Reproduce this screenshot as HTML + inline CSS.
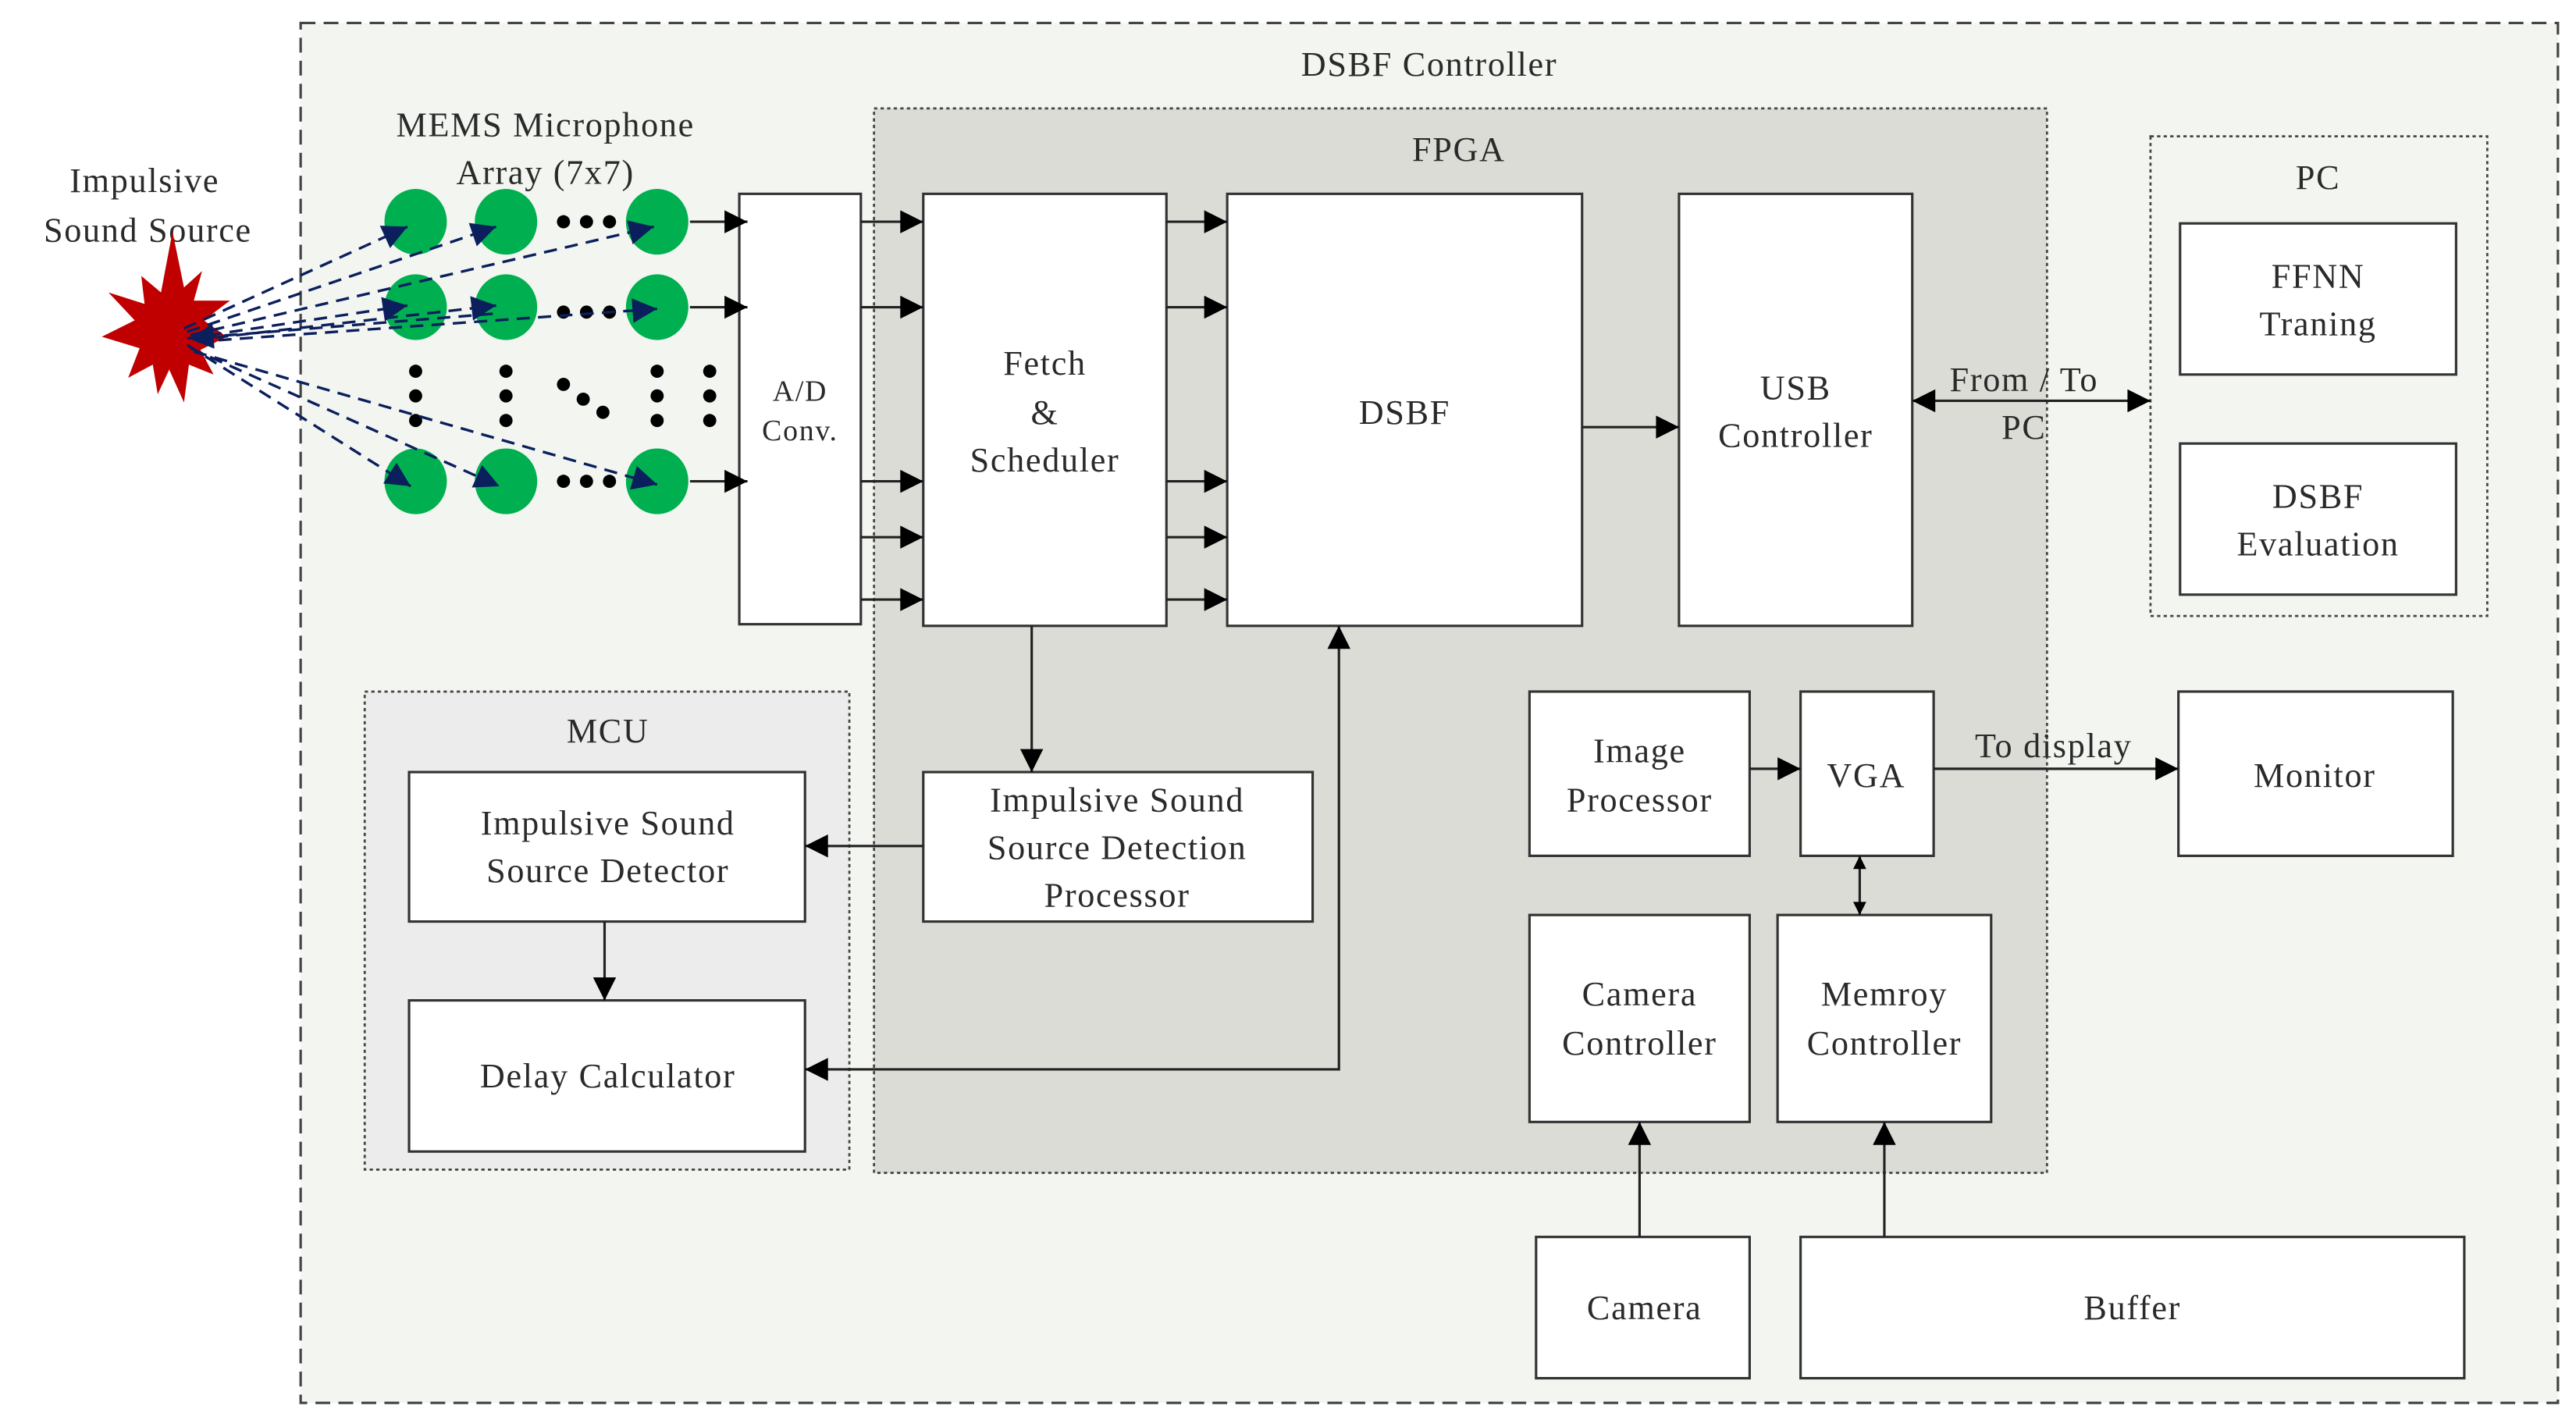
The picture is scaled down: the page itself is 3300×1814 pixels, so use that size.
<!DOCTYPE html>
<html><head><meta charset="utf-8"><style>
html,body{margin:0;padding:0;background:#fff;}
svg{display:block;}
text{font-family:"Liberation Serif",serif;font-size:21px;fill:#2a2a2a;text-anchor:middle;letter-spacing:0.8px;}
.b{fill:#fff;stroke:#333;stroke-width:1.5;}
.l{stroke:#222;stroke-width:1.5;fill:none;}
.d{stroke:#0a1f5c;stroke-width:1.6;stroke-dasharray:8,5;fill:none;}
</style></head><body>
<svg width="3300" height="1814" viewBox="0 0 1568 862" preserveAspectRatio="none" xmlns="http://www.w3.org/2000/svg">
<defs>
<marker id="a" viewBox="0 0 10 10" refX="10" refY="5" markerWidth="22" markerHeight="14" markerUnits="userSpaceOnUse" orient="auto-start-reverse"><path d="M0,0L10,5L0,10z" fill="#000"/></marker>
<marker id="s" viewBox="0 0 10 10" refX="10" refY="5" markerWidth="10" markerHeight="8" markerUnits="userSpaceOnUse" orient="auto-start-reverse"><path d="M0,0L10,5L0,10z" fill="#000"/></marker>
<marker id="n" viewBox="0 0 10 10" refX="10" refY="5" markerWidth="22" markerHeight="15" markerUnits="userSpaceOnUse" orient="auto"><path d="M0,0L10,5L0,10z" fill="#0a1f5c"/></marker>
</defs>
<rect width="1568" height="862" fill="#fff"/>
<rect x="183" y="14" width="1374" height="840" fill="#f3f5f0" stroke="#444" stroke-width="1.5" stroke-dasharray="9,5"/>
<text x="870" y="46">DSBF Controller</text>
<rect x="532" y="66" width="714" height="648" fill="#dcdcd7" stroke="#444" stroke-width="1.3" stroke-dasharray="2,2"/>
<text x="888" y="98">FPGA</text>
<rect x="1309" y="83" width="205" height="292" fill="#f3f5f0" stroke="#444" stroke-width="1.3" stroke-dasharray="2,2"/>
<text x="1411" y="115">PC</text>
<rect x="222" y="421" width="295" height="291" fill="#ececec" stroke="#444" stroke-width="1.3" stroke-dasharray="2,2"/>
<text x="370" y="452">MCU</text>

<rect class="b" x="1327" y="136" width="168" height="92"/><text x="1411" y="175">FFNN</text><text x="1411" y="204">Traning</text>
<rect class="b" x="1327" y="270" width="168" height="92"/><text x="1411" y="309">DSBF</text><text x="1411" y="338">Evaluation</text>
<rect class="b" x="450" y="118" width="74" height="262"/><text x="487" y="244" style="font-size:18px">A/D</text><text x="487" y="268" style="font-size:18px">Conv.</text>
<rect class="b" x="562" y="118" width="148" height="263"/><text x="636" y="228">Fetch</text><text x="636" y="258">&amp;</text><text x="636" y="287">Scheduler</text>
<rect class="b" x="747" y="118" width="216" height="263"/><text x="855" y="258">DSBF</text>
<rect class="b" x="1022" y="118" width="142" height="263"/><text x="1093" y="243">USB</text><text x="1093" y="272">Controller</text>
<rect class="b" x="562" y="470" width="237" height="91"/><text x="680" y="494">Impulsive Sound</text><text x="680" y="523">Source Detection</text><text x="680" y="552">Processor</text>
<rect class="b" x="249" y="470" width="241" height="91"/><text x="370" y="508">Impulsive Sound</text><text x="370" y="537">Source Detector</text>
<rect class="b" x="249" y="609" width="241" height="92"/><text x="370" y="662">Delay Calculator</text>
<rect class="b" x="931" y="421" width="134" height="100"/><text x="998" y="464">Image</text><text x="998" y="494">Processor</text>
<rect class="b" x="1096" y="421" width="81" height="100"/><text x="1136" y="479">VGA</text>
<rect class="b" x="1326" y="421" width="167" height="100"/><text x="1409" y="479">Monitor</text>
<rect class="b" x="931" y="557" width="134" height="126"/><text x="998" y="612">Camera</text><text x="998" y="642">Controller</text>
<rect class="b" x="1082" y="557" width="130" height="126"/><text x="1147" y="612">Memroy</text><text x="1147" y="642">Controller</text>
<rect class="b" x="935" y="753" width="130" height="86"/><text x="1001" y="803">Camera</text>
<rect class="b" x="1096" y="753" width="404" height="86"/><text x="1298" y="803">Buffer</text>

<g class="l">
<line x1="420" y1="135" x2="455" y2="135" marker-end="url(#a)"/>
<line x1="420" y1="187" x2="455" y2="187" marker-end="url(#a)"/>
<line x1="420" y1="293" x2="455" y2="293" marker-end="url(#a)"/>
<line x1="524" y1="135" x2="562" y2="135" marker-end="url(#a)"/>
<line x1="524" y1="187" x2="562" y2="187" marker-end="url(#a)"/>
<line x1="524" y1="293" x2="562" y2="293" marker-end="url(#a)"/>
<line x1="524" y1="327" x2="562" y2="327" marker-end="url(#a)"/>
<line x1="524" y1="365" x2="562" y2="365" marker-end="url(#a)"/>
<line x1="710" y1="135" x2="747" y2="135" marker-end="url(#a)"/>
<line x1="710" y1="187" x2="747" y2="187" marker-end="url(#a)"/>
<line x1="710" y1="293" x2="747" y2="293" marker-end="url(#a)"/>
<line x1="710" y1="327" x2="747" y2="327" marker-end="url(#a)"/>
<line x1="710" y1="365" x2="747" y2="365" marker-end="url(#a)"/>
<line x1="963" y1="260" x2="1022" y2="260" marker-end="url(#a)"/>
<line x1="1164" y1="244" x2="1309" y2="244" marker-start="url(#a)" marker-end="url(#a)"/>
<line x1="628" y1="381" x2="628" y2="470" marker-end="url(#a)"/>
<line x1="562" y1="515" x2="490" y2="515" marker-end="url(#a)"/>
<line x1="368" y1="561" x2="368" y2="609" marker-end="url(#a)"/>
<polyline points="490,651 815,651 815,381" marker-start="url(#a)" marker-end="url(#a)"/>
<line x1="1065" y1="468" x2="1096" y2="468" marker-end="url(#a)"/>
<line x1="1177" y1="468" x2="1326" y2="468" marker-end="url(#a)"/>
<line x1="1132" y1="521" x2="1132" y2="557" marker-start="url(#s)" marker-end="url(#s)"/>
<line x1="998" y1="753" x2="998" y2="683" marker-end="url(#a)"/>
<line x1="1147" y1="753" x2="1147" y2="683" marker-end="url(#a)"/>
</g>
<text x="1232" y="238">From / To</text><text x="1232" y="267">PC</text>
<text x="1250" y="461">To display</text>

<text x="88" y="117">Impulsive</text><text x="90" y="147">Sound Source</text>
<text x="332" y="83">MEMS Microphone</text><text x="332" y="112">Array (7x7)</text>
<polygon fill="#c00000" points="105,141 112,175 123,165 118,183 140,183 124,195 138,205 122,213 130,228 115,222 112,245 103,225 96,240 93,222 78,230 85,212 62,205 82,195 66,178 88,185 86,168 98,178" />
<g fill="#00b050">
<ellipse cx="253" cy="135" rx="19" ry="20"/><ellipse cx="308" cy="135" rx="19" ry="20"/><ellipse cx="400" cy="135" rx="19" ry="20"/>
<ellipse cx="253" cy="187" rx="19" ry="20"/><ellipse cx="308" cy="187" rx="19" ry="20"/><ellipse cx="400" cy="187" rx="19" ry="20"/>
<ellipse cx="253" cy="293" rx="19" ry="20"/><ellipse cx="308" cy="293" rx="19" ry="20"/><ellipse cx="400" cy="293" rx="19" ry="20"/>
</g>
<g fill="#000">
<circle cx="343" cy="135" r="4"/><circle cx="357" cy="135" r="4"/><circle cx="371" cy="135" r="4"/>
<circle cx="343" cy="190" r="4"/><circle cx="357" cy="190" r="4"/><circle cx="371" cy="190" r="4"/>
<circle cx="343" cy="293" r="4"/><circle cx="357" cy="293" r="4"/><circle cx="371" cy="293" r="4"/>
<circle cx="253" cy="226" r="4"/><circle cx="253" cy="241" r="4"/><circle cx="253" cy="256" r="4"/>
<circle cx="308" cy="226" r="4"/><circle cx="308" cy="241" r="4"/><circle cx="308" cy="256" r="4"/>
<circle cx="343" cy="234" r="4"/><circle cx="355" cy="243" r="4"/><circle cx="367" cy="251" r="4"/>
<circle cx="400" cy="226" r="4"/><circle cx="400" cy="241" r="4"/><circle cx="400" cy="256" r="4"/>
<circle cx="432" cy="226" r="4"/><circle cx="432" cy="241" r="4"/><circle cx="432" cy="256" r="4"/>
</g>
<g class="d">
<line x1="112" y1="200" x2="248" y2="138" marker-end="url(#n)"/>
<line x1="114" y1="202" x2="302" y2="138" marker-end="url(#n)"/>
<line x1="116" y1="204" x2="398" y2="138" marker-end="url(#n)"/>
<line x1="114" y1="206" x2="248" y2="186" marker-end="url(#n)"/>
<line x1="118" y1="207" x2="302" y2="186" marker-end="url(#n)"/>
<line x1="300" y1="191" x2="115" y2="206" marker-end="url(#n)"/>
<line x1="120" y1="208" x2="400" y2="188" marker-end="url(#n)"/>
<line x1="114" y1="210" x2="250" y2="296" marker-end="url(#n)"/>
<line x1="116" y1="212" x2="304" y2="296" marker-end="url(#n)"/>
<line x1="118" y1="214" x2="400" y2="295" marker-end="url(#n)"/>
</g>
</svg>
</body></html>
